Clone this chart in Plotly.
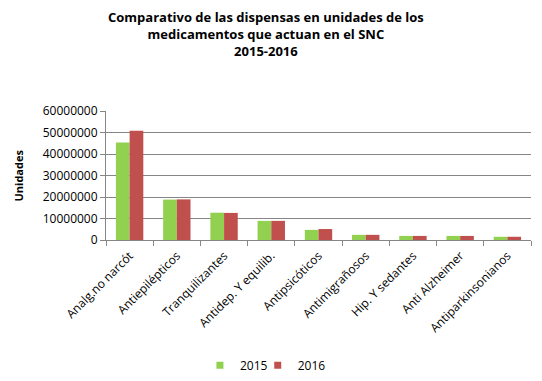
import plotly.graph_objects as go

categories = ["Analg.no narcót", "Antiepilépticos", "Tranquilizantes", "Antidep. Y equilib.",
              "Antipsicóticos", "Antimigrañosos", "Hip. Y sedantes", "Anti Alzheimer", "Antiparkinsonianos"]
values_2015 = [45300000, 18800000, 12700000, 8900000, 4700000, 2400000, 1900000, 1900000, 1500000]
values_2016 = [50800000, 18900000, 12600000, 8900000, 5100000, 2400000, 1900000, 1900000, 1500000]
y_ticks = [0, 10000000, 20000000, 30000000, 40000000, 50000000, 60000000]
series_names = ["2015", "2016"]
series_colors = ["#92D050", "#C0504D"]
title_lines = ["Comparativo de las dispensas en unidades de los",
               "medicamentos que actuan en el SNC", "2015-2016"]

font_family = "Open Sans, Liberation Sans, sans-serif"
legend_ids = ["legend", "legend2"]
legend_x = [0.221, 0.357]

fig = go.Figure()
for name, vals, col in zip(series_names, [values_2015, values_2016], series_colors):
    fig.add_trace(go.Bar(name=name, x=categories, y=vals, marker_color=col,
                         marker_line_width=0, showlegend=False))
# legend entries with small square swatches, one legend each
for name, col, lid in zip(series_names, series_colors, legend_ids):
    fig.add_trace(go.Scatter(name=name, x=[None], y=[None], mode="markers",
                             marker=dict(symbol="square", size=7, color=col),
                             showlegend=True, legend=lid))

fig.add_annotation(text="<b>" + "<br>".join(title_lines) + "</b>",
                   xref="paper", yref="paper", x=0.376, y=1.0, yshift=105,
                   xanchor="center", yanchor="top", showarrow=False,
                   font=dict(size=13, family=font_family), align="center")
fig.add_annotation(text="<b>Unidades</b>", textangle=-90,
                   xref="paper", yref="paper", x=0, xshift=-88, y=0.5,
                   xanchor="center", yanchor="middle", showarrow=False,
                   font=dict(size=11, family=font_family))

legend_style = dict(orientation="h", y=-0.97, yanchor="middle", xanchor="left",
                    font=dict(size=12), bgcolor="rgba(0,0,0,0)")
fig.update_layout(
    width=534, height=373,
    paper_bgcolor="white", plot_bgcolor="white",
    barmode="group", bargap=0.42, bargroupgap=0.0,
    margin=dict(l=98, r=11, t=103, b=141, autoexpand=False),
    font=dict(family=font_family, size=11, color="black"),
    legend=dict(x=legend_x[0], **legend_style),
    legend2=dict(x=legend_x[1], **legend_style),
    showlegend=True,
)
fig.update_xaxes(showline=True, linecolor="#868686", linewidth=1, ticks="outside",
                 tickson="boundaries", ticklen=5, tickcolor="#868686", tickangle=-45,
                 tickfont=dict(size=12), ticklabelstandoff=3, showgrid=False, automargin=False)
fig.update_yaxes(range=[0, 60000000], tickvals=y_ticks, ticktext=[str(v) for v in y_ticks],
                 showline=True, linecolor="#868686", linewidth=1, ticks="outside", ticklen=5,
                 tickcolor="#868686", showgrid=True, gridcolor="#868686", gridwidth=1,
                 zeroline=False, tickfont=dict(size=12), automargin=False)

fig.write_html("out.html")
